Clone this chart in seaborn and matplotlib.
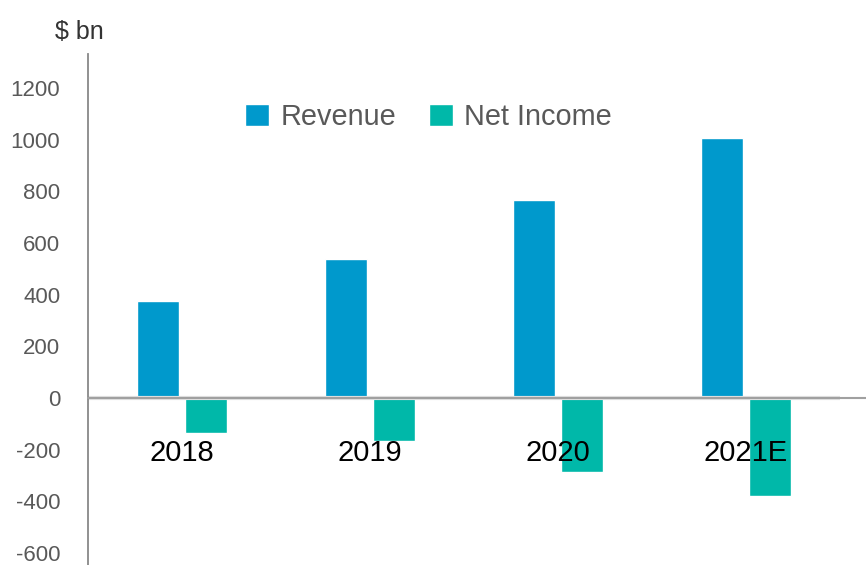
import matplotlib
matplotlib.use("Agg")
import matplotlib.pyplot as plt
import seaborn as sns
import pandas as pd

# данные ($ bn)
years = ["2018", "2019", "2020", "2021E"]
revenue = [377, 537, 765, 1005]
net_income = [-135, -167, -288, -378]
series_names = ["Revenue", "Net Income"]
y_ticks = [-600, -400, -200, 0, 200, 400, 600, 800, 1000, 1200]

colors = {"Revenue": "#0099CC", "Net Income": "#00B8A9"}

df = pd.DataFrame({
    "year": years * 2,
    "series": [series_names[0]] * len(years) + [series_names[1]] * len(years),
    "value": revenue + net_income,
})

sns.set_theme(style="white")
plt.rcParams["font.family"] = ["Liberation Sans", "DejaVu Sans"]
plt.rcParams["axes.unicode_minus"] = False

fig = plt.figure(figsize=(8.66, 5.65), dpi=100)
ax = fig.add_axes([88 / 866, 0.0, (840 - 88) / 866, 1 - 54 / 565])

sns.barplot(data=df, x="year", y="value", hue="series", order=years,
            hue_order=series_names, palette=colors, width=0.51, gap=0.125,
            saturation=1, ax=ax)

ax.set_xlim(-0.5, 3.5)
ax.set_ylim(-646, 1331)
ax.set_yticks(y_ticks)
ax.set_xlabel("")
ax.set_ylabel("")

# нулевая линия
ax.axhline(0, color="#e0e0e0", lw=3, zorder=1)
ax.axhline(0, color="#a0a0a0", lw=1.5, xmax=1.035, clip_on=False, zorder=3)

for s in ["top", "right", "bottom"]:
    ax.spines[s].set_visible(False)
ax.spines["left"].set_color("#888888")
ax.spines["left"].set_linewidth(1.3)

# подписи годов поверх столбцов, как в оригинале
ax.set_axisbelow(False)
ax.xaxis.set_zorder(5)
ax.tick_params(axis="y", length=0, pad=20, labelsize=16, labelcolor="#595959")
ax.tick_params(axis="x", length=0, pad=-91, labelsize=21, labelcolor="black")

handles, labels = ax.get_legend_handles_labels()
ax.get_legend().remove()
fig.legend(handles, labels, loc="center left",
           bbox_to_anchor=(245 / 866, 1 - 117 / 565), ncol=2, frameon=False,
           fontsize=20.8, labelcolor="#595959", borderpad=0, borderaxespad=0,
           handlelength=0.83, handleheight=0.83, handletextpad=0.4,
           columnspacing=1.12)

fig.text(79 / 866, 1 - 32 / 565, "$ bn", fontsize=18, color="#333333",
         ha="center", va="center")

fig.savefig("out.png", dpi=100)
